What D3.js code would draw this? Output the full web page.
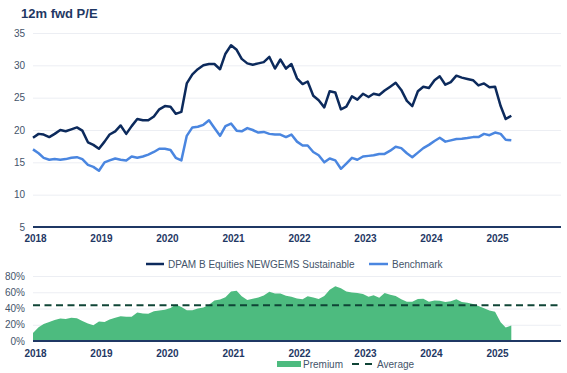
<!DOCTYPE html>
<html lang="en">
<head>
    <meta charset="UTF-8">
    <title>12m fwd P/E</title>
    <script src="https://d3js.org/d3.v7.min.js"></script>
    <style>
        body {
            margin: 0;
            background: #fff;
            font-family: "Liberation Sans", Arial, sans-serif;
        }

        .grid line {
            stroke: #eceef3;
            stroke-width: 1;
        }

        .grid path {
            stroke: none;
        }

        .ylabel {
            font-size: 10px;
            fill: #44546a;
        }

        .xlabel {
            font-size: 10px;
            font-weight: bold;
            fill: #1f3864;
        }

        .legend {
            font-size: 10px;
            fill: #44546a;
        }
    </style>
</head>
<body>
    <div id="chart"></div>
    <script>
        // monthly, Jan 2018 .. Apr 2025
        const fundPE = [
            18.8, 19.4, 19.3, 18.9, 19.4, 20.0, 19.8, 20.1, 20.4, 19.9,
            18.1, 17.7, 17.1, 18.2, 19.3, 19.8, 20.7, 19.4, 20.6, 21.7,
            21.5, 21.5, 22.1, 23.2, 23.7, 23.6, 22.5, 22.8, 27.2, 28.6,
            29.4, 30.0, 30.2, 30.2, 29.4, 31.8, 33.1, 32.4, 31.0, 30.3,
            30.1, 30.3, 30.5, 31.3, 29.5, 30.9, 29.5, 30.2, 28.0, 27.1,
            27.5, 25.3, 24.6, 23.5, 26.0, 25.8, 23.2, 23.6, 25.2, 24.7,
            25.6, 25.1, 25.6, 25.4, 26.1, 26.7, 27.3, 26.2, 24.5, 23.7,
            26.0, 26.7, 26.5, 27.7, 28.3, 27.0, 27.4, 28.4, 28.1, 27.9,
            27.7, 26.9, 27.2, 26.6, 26.7, 23.7, 21.7, 22.2
        ];

        const benchPE = [
            17.0, 16.4, 15.7, 15.4, 15.5, 15.4, 15.5, 15.7, 15.8, 15.5,
            14.6, 14.3, 13.7, 15.0, 15.3, 15.6, 15.4, 15.3, 15.9, 15.7,
            15.9, 16.2, 16.6, 17.1, 17.1, 16.9, 15.7, 15.3, 19.1, 20.4,
            20.5, 20.8, 21.5, 20.3, 19.1, 20.6, 21.0, 19.9, 19.8, 20.3,
            20.0, 19.6, 19.7, 19.4, 19.3, 19.3, 18.9, 19.3, 18.2, 17.6,
            17.6, 16.6, 16.1, 15.0, 15.6, 15.3, 14.0, 14.8, 15.7, 15.4,
            15.9, 16.0, 16.1, 16.3, 16.3, 16.8, 17.4, 17.2, 16.4, 15.8,
            16.5, 17.2, 17.7, 18.3, 18.8, 18.2, 18.4, 18.6, 18.65, 18.75,
            18.9, 18.9, 19.4, 19.2, 19.6, 19.4, 18.5, 18.4
        ];

        const premium = [
            10, 17, 21, 23.5, 26, 27.6, 27, 28.5, 28, 24.5,
            21.5, 19.5, 24, 23.5, 26.5, 28.5, 30.5, 29.7, 30, 35,
            34, 33.5, 36.5, 37.5, 38.5, 40.5, 45, 42, 38, 38,
            40, 41.2, 44.5, 50, 51, 54, 61, 62, 55, 50.5,
            52, 53.5, 56, 60.5, 58.6, 58.6, 55.7, 54.6, 52.3, 51.5,
            55, 53.5, 51.7, 55.5, 63, 67.3, 65, 61, 59.6, 59,
            58, 54.5, 56.2, 53.2, 59, 57, 55.3, 51.4, 48.2, 48.2,
            51.8, 52, 48.2, 50, 49.4, 48, 49, 51.4, 48.1, 47.2,
            45.6, 43, 40.3, 37.6, 35.9, 23, 16.5, 19
        ];

        const premiumAverage = 44;

        const years = [2018, 2019, 2020, 2021, 2022, 2023, 2024, 2025];
        const peTicks = [5, 10, 15, 20, 25, 30, 35];
        const premiumTicks = [0, 20, 40, 60, 80];

        const dates = d3.timeMonth.range(new Date(2018, 0, 1), new Date(2025, 4, 1));

        const navy = "#0c2a5c";
        const blue = "#4a86e0";
        const green = "#4dbb7f";
        const axisColor = "#1f3864";

        const svg = d3.select("#chart")
            .append("svg")
            .attr("width", 567)
            .attr("height", 373);

        const x = d3.scaleTime()
            .domain([new Date(2018, 0, 1), new Date(2026, 0, 1)])
            .range([33, 561]);

        const y = d3.scaleLinear().domain([5, 35]).range([227, 33]);
        const y2 = d3.scaleLinear().domain([0, 80]).range([341, 276]);

        // title
        svg.append("text")
            .attr("x", 21)
            .attr("y", 18)
            .attr("font-size", 13)
            .attr("font-weight", "bold")
            .attr("fill", axisColor)
            .text("12m fwd P/E");

        // ---- top panel ----
        svg.append("g")
            .attr("class", "grid")
            .attr("transform", "translate(33,0)")
            .call(d3.axisLeft(y).tickValues(peTicks.slice(1)).tickSize(-528).tickFormat(""));

        svg.selectAll(".pe-label")
            .data(peTicks)
            .enter()
            .append("text")
            .attr("class", "ylabel")
            .attr("x", 25)
            .attr("y", d => y(d))
            .attr("dy", "0.35em")
            .attr("text-anchor", "end")
            .text(d => d);

        const fundLine = d3.line()
            .x((d, i) => x(dates[i]))
            .y(d => y(d));

        svg.append("path")
            .datum(benchPE)
            .attr("fill", "none")
            .attr("stroke", blue)
            .attr("stroke-width", 2.5)
            .attr("stroke-linejoin", "round")
            .attr("d", fundLine);

        svg.append("path")
            .datum(fundPE)
            .attr("fill", "none")
            .attr("stroke", navy)
            .attr("stroke-width", 2.5)
            .attr("stroke-linejoin", "round")
            .attr("d", fundLine);

        svg.append("line")
            .attr("x1", 33).attr("x2", 561)
            .attr("y1", y(5)).attr("y2", y(5))
            .attr("stroke", axisColor)
            .attr("stroke-width", 2);

        svg.selectAll(".x-top")
            .data(years)
            .enter()
            .append("text")
            .attr("class", "xlabel")
            .attr("x", d => x(new Date(d, 0, 1)) + 2.5)
            .attr("y", 238)
            .attr("dy", "0.35em")
            .attr("text-anchor", "middle")
            .text(d => d);

        // top legend
        svg.append("line")
            .attr("x1", 146).attr("x2", 164).attr("y1", 264).attr("y2", 264)
            .attr("stroke", navy).attr("stroke-width", 2.5);
        svg.append("text")
            .attr("class", "legend")
            .attr("x", 168).attr("y", 264).attr("dy", "0.35em")
            .text("DPAM B Equities NEWGEMS Sustainable");
        svg.append("line")
            .attr("x1", 369).attr("x2", 388).attr("y1", 264).attr("y2", 264)
            .attr("stroke", blue).attr("stroke-width", 2.5);
        svg.append("text")
            .attr("class", "legend")
            .attr("x", 392).attr("y", 264).attr("dy", "0.35em")
            .text("Benchmark");

        // ---- bottom panel ----
        svg.append("g")
            .attr("class", "grid")
            .attr("transform", "translate(33,0)")
            .call(d3.axisLeft(y2).tickValues(premiumTicks.slice(1)).tickSize(-528).tickFormat(""));

        svg.selectAll(".prem-label")
            .data(premiumTicks)
            .enter()
            .append("text")
            .attr("class", "ylabel")
            .attr("x", 25)
            .attr("y", d => y2(d))
            .attr("dy", "0.35em")
            .attr("text-anchor", "end")
            .text(d => d + "%");

        svg.append("path")
            .datum(premium)
            .attr("fill", green)
            .attr("d", d3.area()
                .x((d, i) => x(dates[i]))
                .y0(y2(0))
                .y1(d => y2(d)));

        svg.append("line")
            .attr("x1", 33).attr("x2", 561)
            .attr("y1", y2(premiumAverage)).attr("y2", y2(premiumAverage))
            .attr("stroke", "#0f4436")
            .attr("stroke-width", 2)
            .attr("stroke-dasharray", "7,4.5");

        svg.append("line")
            .attr("x1", 33).attr("x2", 561)
            .attr("y1", y2(0)).attr("y2", y2(0))
            .attr("stroke", axisColor)
            .attr("stroke-width", 2);

        svg.selectAll(".x-bottom")
            .data(years)
            .enter()
            .append("text")
            .attr("class", "xlabel")
            .attr("x", d => x(new Date(d, 0, 1)) + 2.5)
            .attr("y", 353)
            .attr("dy", "0.35em")
            .attr("text-anchor", "middle")
            .text(d => d);

        // bottom legend
        svg.append("rect")
            .attr("x", 277).attr("y", 361).attr("width", 24).attr("height", 6)
            .attr("fill", green);
        svg.append("text")
            .attr("class", "legend")
            .attr("x", 303).attr("y", 364).attr("dy", "0.35em")
            .text("Premium");
        svg.append("line")
            .attr("x1", 352).attr("x2", 372).attr("y1", 364).attr("y2", 364)
            .attr("stroke", "#0f4436").attr("stroke-width", 2)
            .attr("stroke-dasharray", "7,6");
        svg.append("text")
            .attr("class", "legend")
            .attr("x", 377).attr("y", 364).attr("dy", "0.35em")
            .text("Average");
    </script>
</body>
</html>
